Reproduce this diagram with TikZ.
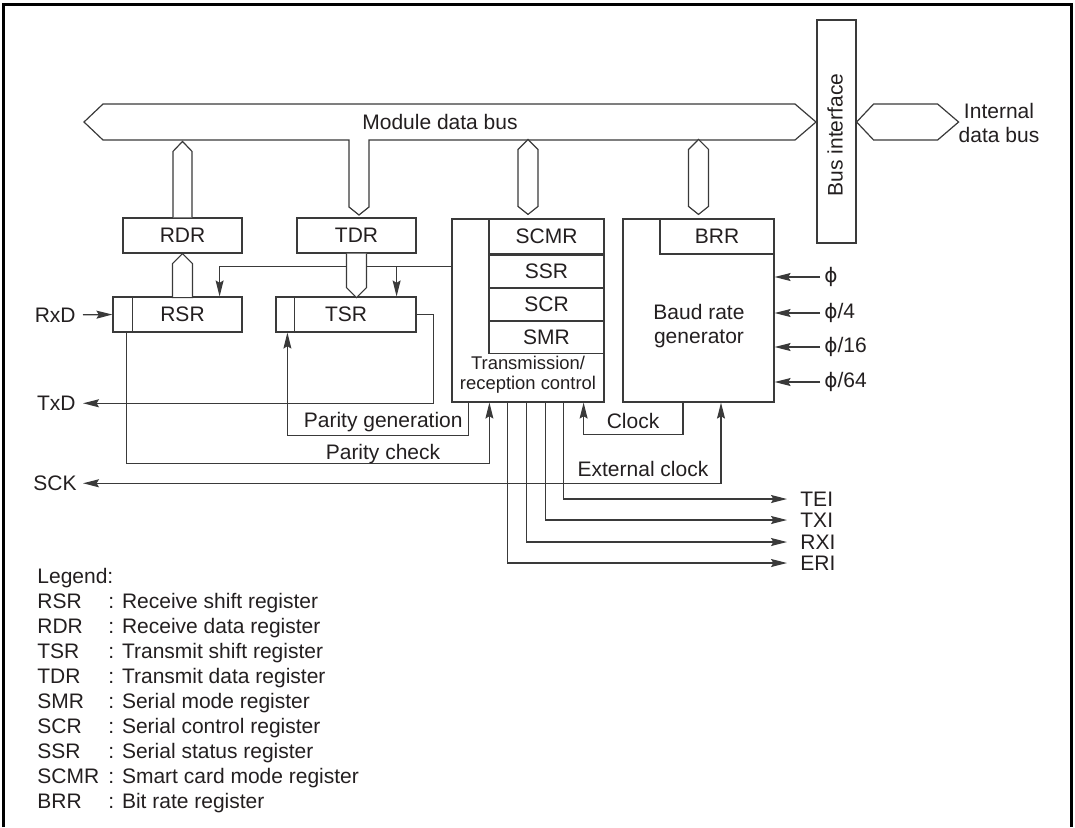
\documentclass[tikz,border=0pt]{standalone}
\usepackage{fontspec}
\setmainfont{Liberation Sans}
\newfontfamily\phifont{DejaVu Sans}
\usetikzlibrary{positioning,arrows.meta,calc}
\definecolor{sciInk}{HTML}{231F20}
\definecolor{sciLine}{HTML}{3A3A3A}
\newcommand{\ph}{{\phifont\fontsize{10}{11.8}\selectfont ϕ}}
\tikzset{
  >={Stealth[length=8pt,width=4pt,inset=1.2pt]},
  reg/.style={draw=sciLine,line width=0.6pt,fill=white,inner sep=0pt,
    minimum height=17.5pt,font=\fontsize{10.5}{12}\selectfont,text=sciInk},
  blk/.style={draw=sciLine,line width=0.6pt,inner sep=0pt},
  bus/.style={draw=sciLine,line width=0.6pt,fill=white,line join=miter},
  lbl/.style={inner sep=0pt,font=\fontsize{10.5}{11.8}\selectfont,text=sciInk},
  smalllbl/.style={inner sep=0pt,font=\fontsize{9.2}{10}\selectfont,text=sciInk},
  wire/.style={line width=0.6pt,draw=sciLine},
  arrow/.style={->,line width=0.6pt,draw=sciLine}
}
\begin{document}
\begin{tikzpicture}[x=0.5pt,y=-0.5pt]
  \useasboundingbox (0,0) rectangle (1075,827);
  \draw[line width=1.5pt] (3.5,827) -- (3.5,4) -- (1071.5,4) -- (1071.5,827);

  % registers and blocks
  \node[reg, minimum width=59.5pt] (rdr) at (182.5,235.5) {RDR};
  \node[reg, minimum width=59.5pt] (tdr) at (356.5,235.5) {TDR};
  \node[reg, minimum width=64.5pt] (rsr) at (177.5,314.5) {\hspace*{5pt}RSR};
  \node[reg, minimum width=70pt] (tsr) at (346,314.5) {TSR};
  \draw[wire] ([xshift=10pt]rsr.north west) -- ([xshift=10pt]rsr.south west);
  \draw[wire] ([xshift=9.5pt]tsr.north west) -- ([xshift=9.5pt]tsr.south west);

  \node[blk, minimum width=76pt, minimum height=91.5pt] (ctrl) at (528,310.5) {};
  \node[reg, minimum width=57.5pt, anchor=north east] (scmr) at (ctrl.north east) {SCMR};
  \node[reg, minimum width=57.5pt, minimum height=16pt, below=0pt of scmr] (ssr) {SSR};
  \node[reg, minimum width=57.5pt, minimum height=16pt, below=0pt of ssr] (scr) {SCR};
  \node[reg, minimum width=57.5pt, minimum height=16pt, below=0pt of scr] (smr) {SMR};
  \node[smalllbl, align=center] (ctrltxt) at (528,375) {Transmission/\\reception control};

  \node[blk, minimum width=75.5pt, minimum height=91.5pt] (brg) at (698.5,310.5) {};
  \node[reg, minimum width=57pt, anchor=north east] (brr) at (brg.north east) {BRR};
  \node[lbl, align=center] (brgtxt) at (699,326) {Baud rate\\generator};

  \node[blk, minimum width=19.5pt, minimum height=111.5pt] (busif) at (836.5,131.5) {};
  \node[lbl, rotate=90] (busiftxt) at (835,135) {Bus interface};

  % control lines to the shift registers
  \coordinate (ctl) at ([yshift=-24pt]ctrl.north west);
  \coordinate (tsrin) at ([xshift=-10pt]tsr.north east);
  \draw[arrow] (ctl) -| ([xshift=-11.5pt]rsr.north east);
  \draw[arrow] (tsrin |- ctl) -- (tsrin);

  % buses
  \draw[bus] (84,122) -- (103,104) -- (795,104) -- (816,122) -- (795,140) -- (369,140)
    -- (369,207) -- (359,215) -- (349,207) -- (349,140) -- (103,140) -- cycle;
  \node[lbl, anchor=base] (mdb) at (440,129.5) {Module data bus};
  \draw[bus] ([xshift=-4.75pt]rdr.north) -- ++(0,-66) -- ++(9.5,-10) -- ++(9.5,10) -- ++(0,66);
  \draw[bus] (rdr.south) -- ++(10,10) -- ++(0,34) -- ++(-20,0) -- ++(0,-34) -- cycle;
  \draw[bus] ([xshift=-5pt]tdr.south) -- ++(0,34) -- ++(10,10) -- ++(10,-10) -- ++(0,-34);
  \draw[bus] ([yshift=2pt]ctrl.north) -- ++(-10,-8) -- ++(0,-57) -- ++(10,-10)
    -- ++(10,10) -- ++(0,57) -- cycle;
  \draw[bus] ([yshift=2pt]brg.north) -- ++(-10,-8) -- ++(0,-57) -- ++(10,-10)
    -- ++(10,10) -- ++(0,57) -- cycle;
  \draw[bus] ([yshift=4.75pt]busif.east) -- ++(17,-18) -- ++(64,0) -- ++(21,18)
    -- ++(-21,18) -- ++(-64,0) -- cycle;
  \node[lbl, align=center] (idb) at (999,123) {Internal\\data bus};

  % clock inputs
  \node[lbl, anchor=west] (phi1) at (824,277) {\ph};
  \node[lbl, anchor=west] (phi4) at (824,313) {\ph/4};
  \node[lbl, anchor=west] (phi16) at (824,347) {\ph/16};
  \node[lbl, anchor=west] (phi64) at (824,382) {\ph/64};
  \foreach \nm in {phi1,phi4,phi16,phi64}
    \draw[arrow] ([xshift=-2pt]\nm.west) -- (\nm.west -| brg.east);

  % pins
  \node[lbl, anchor=base east] (rxd) at (76,322) {RxD};
  \node[lbl, anchor=base east] (txd) at (76,410.5) {TxD};
  \node[lbl, anchor=base east] (sck) at (77,490.5) {SCK};
  \draw[arrow] ([xshift=3.5pt]rxd.east) -- (rsr.west);
  \draw[arrow] (tsr.east) -- ++(17,0) |- ([xshift=3.5pt]txd.east);
  \draw[<->, wire] ([xshift=3pt]sck.east) -| ([xshift=11.25pt]brg.south);

  % parity and clock paths
  \draw[arrow] ([xshift=8.5pt]ctrl.south west) -- ++(0,33) -| ([xshift=6pt]tsr.south west);
  \draw[arrow] ([xshift=7pt]rsr.south west) -- ++(0,131) -| ([xshift=19pt]ctrl.south west);
  \draw[arrow] ([xshift=-7.75pt]brg.south) -- ++(0,32) -| ([xshift=-10.5pt]ctrl.south east);
  \node[lbl, anchor=base east] (pgen) at (463,427) {Parity generation};
  \node[lbl, anchor=base] (pchk) at (383,459) {Parity check};
  \node[lbl, anchor=base] (clk) at (633,428) {Clock};
  \node[lbl, anchor=base] (extclk) at (643,476) {External clock};

  % interrupts
  \node[lbl, anchor=west] (tei) at (800,499) {TEI};
  \node[lbl, anchor=west] (txi) at (800,520) {TXI};
  \node[lbl, anchor=west] (rxi) at (800,542) {RXI};
  \node[lbl, anchor=west] (eri) at (800,563) {ERI};
  \foreach \dx/\nm in {28/eri,37.5/rxi,47/txi,56/tei}
    \draw[arrow] ([xshift=\dx pt]ctrl.south west) |- ([xshift=-6.5pt]\nm.west);

  % legend
  \node[lbl, anchor=base west] (legend) at (37,583) {Legend:};
  \foreach \ab/\txt [count=\i] in {RSR/Receive shift register,RDR/Receive data register,
      TSR/Transmit shift register,TDR/Transmit data register,SMR/Serial mode register,
      SCR/Serial control register,SSR/Serial status register,
      SCMR/Smart card mode register,BRR/Bit rate register} {
    \node[lbl, anchor=base west] (ab\i) at (37,{583+25.1*\i}) {\ab};
    \node[lbl, anchor=base west] (tx\i) at (108,{583+25.1*\i}) {: \txt};
  }
\end{tikzpicture}
\end{document}
